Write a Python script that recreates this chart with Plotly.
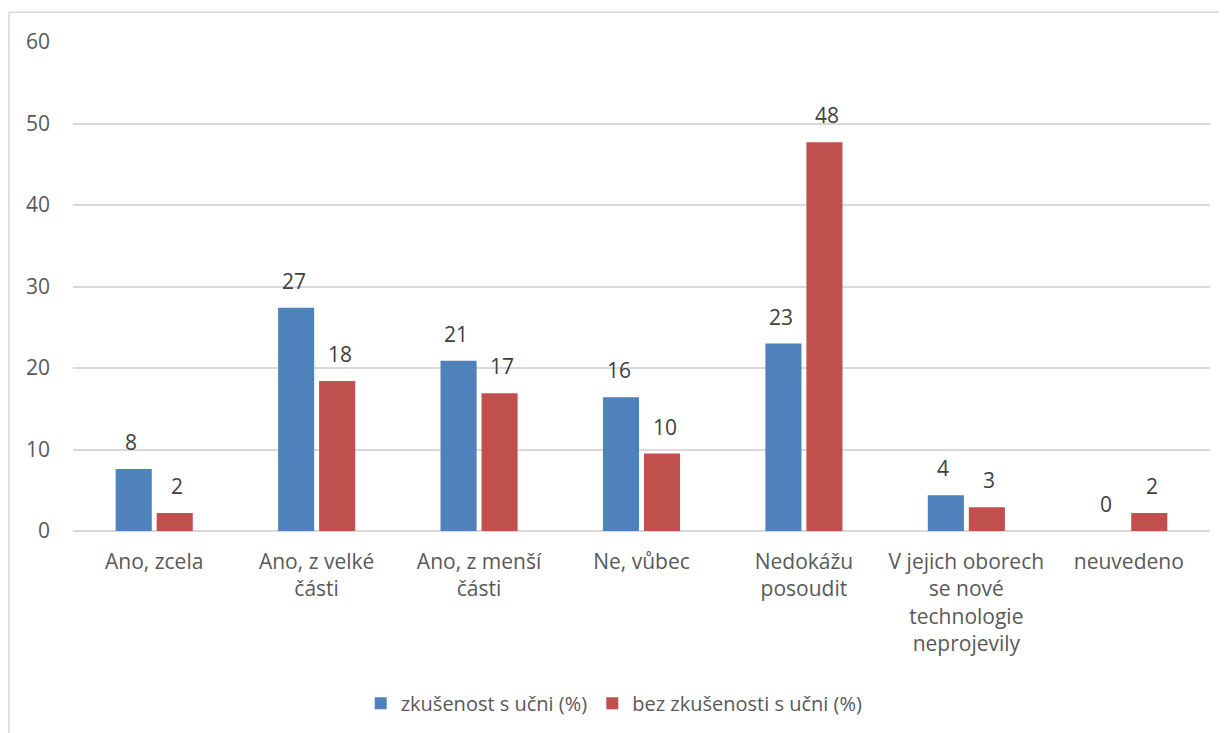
import plotly.graph_objects as go

categories = ["Ano, zcela", "Ano, z velké<br>části", "Ano, z menší<br>části", "Ne, vůbec",
              "Nedokážu<br>posoudit", "V jejich oborech<br>se nové<br>technologie<br>neprojevily",
              "neuvedeno"]
series_names = ["zkušenost s učni (%)", "bez zkušenosti s učni (%)"]
with_exp = [7.6, 27.4, 20.9, 16.4, 23.0, 4.4, 0.0]
without_exp = [2.2, 18.4, 16.9, 9.5, 47.7, 2.9, 2.2]
colors = ["#4F81BD", "#C0504D"]
y_ticks = [0, 10, 20, 30, 40, 50, 60]

FONT = "Open Sans"
fig = go.Figure()
for name, vals, col in zip(series_names, [with_exp, without_exp], colors):
    fig.add_trace(go.Bar(x=categories, y=vals, name=name, marker=dict(color=col, line=dict(width=0))))

annotations = []
for vals, shift in [(with_exp, -23), (without_exp, 23)]:
    for c, v in zip(categories, vals):
        annotations.append(dict(x=c, y=v, xref="x", yref="y", text=str(round(v)), showarrow=False,
                                xshift=shift, yshift=11, yanchor="bottom",
                                font=dict(family=FONT, size=21, color="#404040")))

# page body has an 8px margin, so the figure is sized and placed to compensate
fig.update_layout(
    width=1219, height=725,
    margin=dict(l=65, r=17, t=34, b=202, autoexpand=False),
    paper_bgcolor="white", plot_bgcolor="white",
    barmode="group", bargap=0.495, bargroupgap=0.12,
    font=dict(family=FONT, size=21, color="#595959"),
    showlegend=True,
    legend=dict(orientation="h", x=0.476, xanchor="center", y=-0.352, yanchor="middle",
                font=dict(family=FONT, size=20, color="#595959"), itemwidth=30),
    annotations=annotations,
    shapes=[dict(type="rect", xref="paper", yref="paper", x0=-0.0563, x1=1.2, y0=-0.5, y1=1.0607,
                 line=dict(color="#d9d9d9", width=1.5), fillcolor="rgba(0,0,0,0)", layer="below")],
)
fig.update_xaxes(showgrid=False, showline=False, ticks="", tickfont=dict(size=21, color="#595959"),
                 ticklabelstandoff=16)
fig.update_yaxes(range=[0, 60], tickvals=y_ticks, showgrid=True, gridcolor="#d9d9d9", gridwidth=1.5,
                 zeroline=True, zerolinecolor="#d9d9d9", zerolinewidth=1.5, showline=False,
                 tickfont=dict(size=21, color="#595959"), ticklabelstandoff=22)

fig.write_html("out.html")
